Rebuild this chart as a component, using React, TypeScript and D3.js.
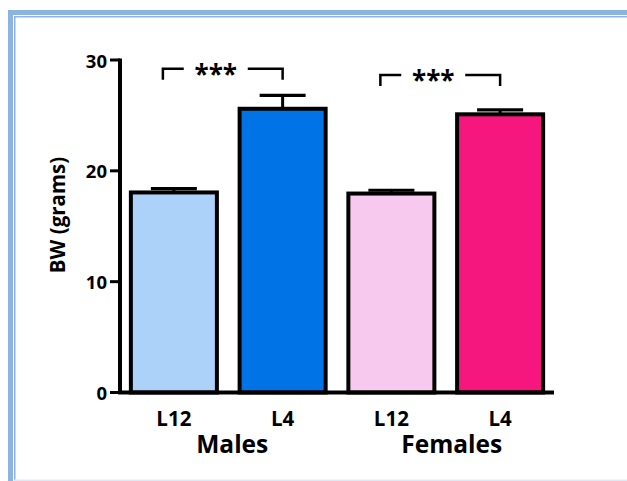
import React from "react";
import * as d3 from "d3";

// Body weight by group
const groups = ["Males", "Females"];
const categories = ["L12", "L4", "L12", "L4"];
const groupOf = [0, 0, 1, 1];
const means = [18.05, 25.6, 17.95, 25.1];
const sems = [0.35, 1.2, 0.3, 0.4];
const fills = ["#acd2fa", "#0073e6", "#f7c9ee", "#f5167e"];
const yTicks = [0, 10, 20, 30];
const yLabel = "BW (grams)";
// significance brackets: [left bar, right bar, label]
const brackets: [number, number, string][] = [
  [0, 1, "***"],
  [2, 3, "***"],
];
const bracketValues = [29.2, 28.65];

const W = 627;
const H = 481;
const FONT = "'Open Sans', sans-serif";

export default function App() {
  const x = d3
    .scaleBand<number>()
    .domain(d3.range(categories.length))
    .range([120, 554])
    .paddingInner(0.209)
    .paddingOuter(0.1);
  const y = d3.scaleLinear().domain([0, 30]).range([392.5, 60]);
  const bw = x.bandwidth();
  const frame = "#8db3e2";

  return (
    <svg
      width={W}
      height={H}
      style={{ position: "absolute", left: 0, top: 0, background: "#fff" }}
      fontFamily={FONT}
    >
      {/* page frame */}
      <rect x={8} y={10} width={W - 8} height={5} fill={frame} />
      <rect x={8} y={10} width={5} height={H - 10} fill={frame} />
      <rect x={14} y={16} width={W - 14} height={1.5} fill={frame} />
      <rect x={14} y={16} width={1.5} height={H - 16} fill={frame} />
      <rect x={14} y={479.5} width={W - 14} height={1.5} fill="#dfe9f6" />

      {/* bars */}
      {means.map((m, i) => {
        const x0 = x(i)!;
        const cx = x0 + bw / 2;
        const top = y(m);
        const err = y(m + sems[i]);
        return (
          <g key={i}>
            <line x1={cx} x2={cx} y1={top} y2={err} stroke="#000" strokeWidth={3} />
            <line
              x1={cx - 23}
              x2={cx + 23}
              y1={err}
              y2={err}
              stroke="#000"
              strokeWidth={3.2}
            />
            <rect
              x={x0}
              y={top}
              width={bw}
              height={y(0) - top}
              fill={fills[i]}
              stroke="#000"
              strokeWidth={4}
            />
          </g>
        );
      })}

      {/* y axis */}
      <line x1={120} x2={120} y1={y(30) - 1.5} y2={y(0)} stroke="#000" strokeWidth={4} />
      {yTicks.map((t) => (
        <g key={t}>
          <line x1={110} x2={120} y1={y(t)} y2={y(t)} stroke="#000" strokeWidth={3} />
          <text
            x={107}
            y={y(t)}
            textAnchor="end"
            dominantBaseline="central"
            fontSize={18.5}
            fontWeight={700}
          >
            {t}
          </text>
        </g>
      ))}
      {/* x axis */}
      <line x1={118} x2={554} y1={y(0)} y2={y(0)} stroke="#000" strokeWidth={4} />

      <text
        transform={`translate(57,${215}) rotate(-90)`}
        textAnchor="middle"
        dominantBaseline="central"
        fontSize={20.5}
        fontWeight={700}
      >
        {yLabel}
      </text>

      {/* category labels */}
      {categories.map((c, i) => (
        <text
          key={i}
          x={x(i)! + bw / 2}
          y={425.5}
          textAnchor="middle"
          fontSize={20.5}
          fontWeight={700}
        >
          {c}
        </text>
      ))}
      {groups.map((g, gi) => {
        const idx = d3.range(categories.length).filter((i) => groupOf[i] === gi);
        const cx = (x(idx[0])! + x(idx[idx.length - 1])! + bw) / 2;
        return (
          <text
            key={g}
            x={cx + (gi === 0 ? 4 : 6)}
            y={453}
            textAnchor="middle"
            fontSize={24.5}
            fontWeight={700}
          >
            {g}
          </text>
        );
      })}

      {/* significance brackets */}
      {brackets.map(([a, b, label], k) => {
        const xa = x(a)! + bw / 2 - 11;
        const xb = x(b)! + bw / 2;
        const yb = y(bracketValues[k]);
        const mid = (xa + xb) / 2;
        return (
          <g key={k}>
            <path
              d={`M${xa},${yb + 11}V${yb}H${mid - 39}M${mid + 25},${yb}H${xb}V${yb + 11}`}
              fill="none"
              stroke="#000"
              strokeWidth={2.5}
            />
            <text
              x={mid - 7}
              y={yb + 15}
              textAnchor="middle"
              fontSize={26}
              fontWeight={700}
            >
              {label}
            </text>
          </g>
        );
      })}
    </svg>
  );
}
